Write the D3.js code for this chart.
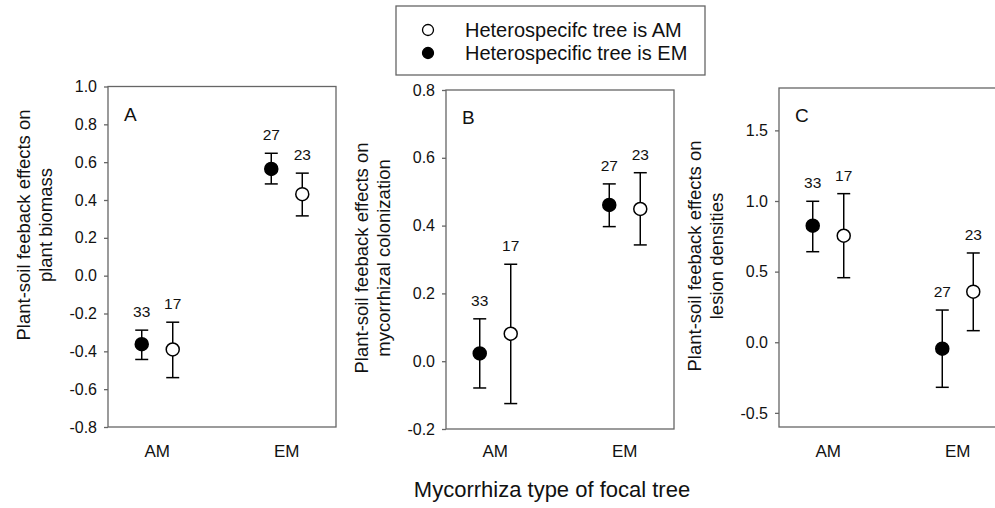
<!DOCTYPE html>
<html><head><meta charset="utf-8">
<script src="https://cdn.jsdelivr.net/npm/d3@7"></script>
<style>
html,body{margin:0;padding:0;background:#fff;}
text{font-family:"Liberation Sans",Arial,Helvetica,sans-serif;fill:#111;}
</style></head>
<body><svg id="chart" width="995" height="508"></svg>
<script>
// ---- data ----
const categories = ["AM", "EM"];
const nHeteroEM = [33, 27];   // filled circles
const nHeteroAM = [17, 23];   // open circles

// Panel A: plant biomass
const biomassEM_mean  = [-0.362, 0.564];
const biomassEM_upper = [-0.288, 0.647];
const biomassEM_lower = [-0.443, 0.485];
const biomassAM_mean  = [-0.390, 0.431];
const biomassAM_upper = [-0.246, 0.542];
const biomassAM_lower = [-0.539, 0.316];
const biomassTicks = [-0.8, -0.6, -0.4, -0.2, 0.0, 0.2, 0.4, 0.6, 0.8, 1.0];

// Panel B: mycorrhizal colonization
const colonEM_mean  = [0.023, 0.461];
const colonEM_upper = [0.125, 0.523];
const colonEM_lower = [-0.079, 0.397];
const colonAM_mean  = [0.081, 0.449];
const colonAM_upper = [0.286, 0.556];
const colonAM_lower = [-0.125, 0.343];
const colonTicks = [-0.2, 0.0, 0.2, 0.4, 0.6, 0.8];

// Panel C: lesion densities
const lesionEM_mean  = [0.825, -0.046];
const lesionEM_upper = [0.998, 0.228];
const lesionEM_lower = [0.641, -0.319];
const lesionAM_mean  = [0.754, 0.358];
const lesionAM_upper = [1.052, 0.632];
const lesionAM_lower = [0.457, 0.082];
const lesionTicks = [-0.5, 0.0, 0.5, 1.0, 1.5];

const legendLabels = ["Heterospecifc tree is AM", "Heterospecific tree is EM"];
const xTitle = "Mycorrhiza type of focal tree";

// ---- layout ----
const svg = d3.select("#chart");
const panelW = 228;
const panels = [
  {letter:"A", left:108, top:86.5, bottom:427, domain:[-0.8,1.0], ticks:biomassTicks,
   title:["Plant-soil feeback effects on","plant biomass"], titleY:225,
   em:[biomassEM_mean,biomassEM_upper,biomassEM_lower], am:[biomassAM_mean,biomassAM_upper,biomassAM_lower]},
  {letter:"B", left:446, top:90, bottom:429, domain:[-0.2,0.8], ticks:colonTicks,
   title:["Plant-soil feeback effects on","mycorrhizal colonization"], titleY:258,
   em:[colonEM_mean,colonEM_upper,colonEM_lower], am:[colonAM_mean,colonAM_upper,colonAM_lower]},
  {letter:"C", left:779, top:88, bottom:427, domain:[-0.6,1.8], ticks:lesionTicks,
   title:["Plant-soil feeback effects on","lesion densities"], titleY:256,
   em:[lesionEM_mean,lesionEM_upper,lesionEM_lower], am:[lesionAM_mean,lesionAM_upper,lesionAM_lower]}
];

const dx = 15.5, r = 6.5, capW = 6.5;
const fmt = d => d.toFixed(1);

panels.forEach(p => {
  const g = svg.append("g");
  const x = d3.scalePoint().domain(categories).range([p.left, p.left + panelW]).padding(0.38);
  const y = d3.scaleLinear().domain(p.domain).range([p.bottom, p.top]);

  // frame
  g.append("rect").attr("x", p.left).attr("y", p.top)
    .attr("width", panelW).attr("height", p.bottom - p.top)
    .attr("fill", "none").attr("stroke", "#666").attr("stroke-width", 1.3);

  // y axis
  const ax = g.append("g").attr("transform", `translate(${p.left},0)`)
    .call(d3.axisLeft(y).tickValues(p.ticks).tickFormat(fmt).tickSizeInner(4).tickSizeOuter(0).tickPadding(7));
  ax.attr("font-size", null).attr("font-family", null);
  ax.select(".domain").remove();
  ax.selectAll(".tick line").attr("stroke", "#666").attr("stroke-width", 1.3);
  ax.selectAll(".tick text").style("font-size", "16px").attr("fill", "#111");

  // x category labels
  g.selectAll(".cat").data(categories).enter().append("text")
    .attr("x", d => x(d)).attr("y", 457).attr("text-anchor", "middle")
    .style("font-size", "17px").text(d => d);

  // panel letter
  g.append("text").attr("x", p.left + 16).attr("y", p.top + 34)
    .style("font-size", "19px").text(p.letter);

  // y title
  p.title.forEach((t, i) => {
    const tx = p.left - 85 + i * 22;
    g.append("text").attr("transform", `translate(${tx},${p.titleY}) rotate(-90)`)
      .attr("text-anchor", "middle").attr("dominant-baseline", "central")
      .style("font-size", "18.5px").text(t);
  });

  const series = [
    {vals:p.em, n:nHeteroEM, off:-dx, fill:"#000"},
    {vals:p.am, n:nHeteroAM, off:dx, fill:"#fff"}
  ];
  series.forEach(s => {
    const [mean, up, lo] = s.vals;
    categories.forEach((c, i) => {
      const cx = x(c) + s.off;
      g.append("line").attr("x1", cx).attr("x2", cx).attr("y1", y(up[i])).attr("y2", y(lo[i]))
        .attr("stroke", "#000").attr("stroke-width", 1.5);
      [up[i], lo[i]].forEach(v => {
        g.append("line").attr("x1", cx - capW).attr("x2", cx + capW).attr("y1", y(v)).attr("y2", y(v))
          .attr("stroke", "#000").attr("stroke-width", 1.5);
      });
      g.append("circle").attr("cx", cx).attr("cy", y(mean[i])).attr("r", r)
        .attr("fill", s.fill).attr("stroke", "#000").attr("stroke-width", 1.5);
      g.append("text").attr("x", cx).attr("y", y(up[i]) - 13).attr("text-anchor", "middle")
        .style("font-size", "15.5px").text(s.n[i]);
    });
  });
});

// x title
svg.append("text").attr("x", 552).attr("y", 497).attr("text-anchor", "middle")
  .style("font-size", "22px").text(xTitle);

// legend
const lg = svg.append("g");
lg.append("rect").attr("x", 396).attr("y", 6).attr("width", 309).attr("height", 69)
  .attr("fill", "#fff").attr("stroke", "#666").attr("stroke-width", 1.3);
const legFill = ["#fff", "#000"];
legendLabels.forEach((t, i) => {
  const cy = 30 + i * 23;
  lg.append("circle").attr("cx", 428).attr("cy", cy).attr("r", 5.5)
    .attr("fill", legFill[i]).attr("stroke", "#000").attr("stroke-width", 1.3);
  lg.append("text").attr("x", 465).attr("y", cy).attr("dominant-baseline", "central")
    .style("font-size", "20px").text(t);
});
</script></body></html>
